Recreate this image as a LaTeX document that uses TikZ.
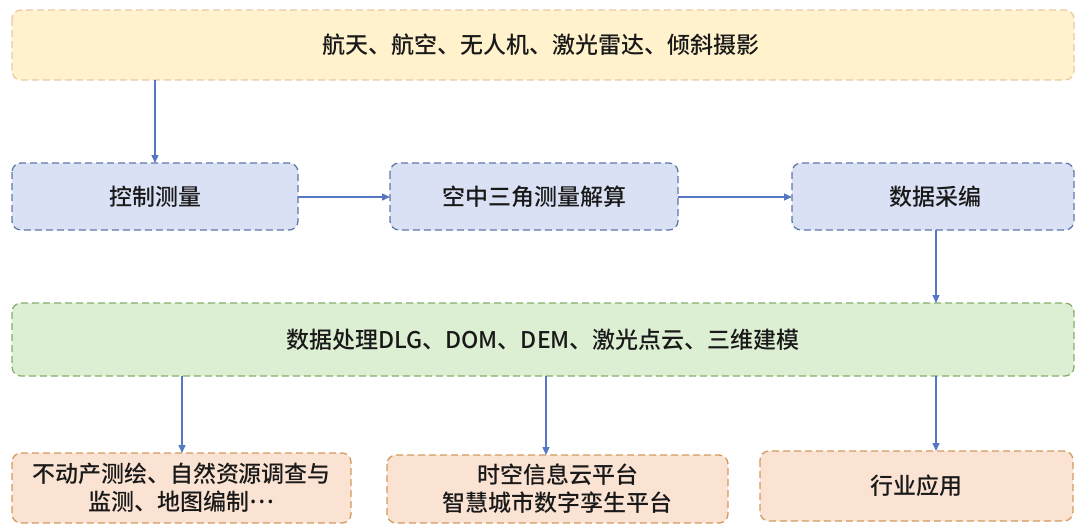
\documentclass[tikz,border=0pt]{standalone}
\usepackage{fontspec}
\setmainfont{Noto Sans CJK SC}[BoldFont={Noto Sans CJK SC Medium}]
\usetikzlibrary{arrows.meta}
\definecolor{yfill}{HTML}{FFF2CC}
\definecolor{ydraw}{HTML}{E8C9A6}
\definecolor{bfill}{HTML}{DAE1F4}
\definecolor{bdraw}{HTML}{6078A8}
\definecolor{gfill}{HTML}{DDEFD3}
\definecolor{gdraw}{HTML}{86AD6C}
\definecolor{ofill}{HTML}{FBE3D3}
\definecolor{odraw}{HTML}{D39A5E}
\definecolor{arr}{HTML}{5677C4}
\tikzset{
  box/.style={rounded corners=9pt, line width=1.3pt, dash pattern=on 7pt off 4pt},
  ybox/.style={box, draw=ydraw, fill=yfill},
  bbox/.style={box, draw=bdraw, fill=bfill},
  gbox/.style={box, draw=gdraw, fill=gfill},
  obox/.style={box, draw=odraw, fill=ofill},
  lbl/.style={font=\fontsize{23}{28}\selectfont\bfseries, text=black!90, align=center},
  conn/.style={draw=arr, line width=1.3pt, -{Triangle[length=8pt,width=7pt]}}
}
\begin{document}
\begin{tikzpicture}[x=1pt,y=-1pt]
\useasboundingbox (0,0) rectangle (1077,525);
% boxes
\draw[ybox] (12,10) rectangle (1074,80);
\node[lbl] (top) at (541,45) {航天、航空、无人机、激光雷达、倾斜摄影};
\coordinate (topB) at (155,80);

\draw[bbox] (12,163) rectangle (298,230);
\node[lbl] (ctrl) at (155,196.5) {控制测量};
\coordinate (ctrlT) at (155,163);
\coordinate (ctrlR) at (298,197);

\draw[bbox] (390,163) rectangle (678,230);
\node[lbl] (aero) at (534,196.5) {空中三角测量解算};
\coordinate (aeroL) at (390,197);
\coordinate (aeroR) at (678,197);

\draw[bbox] (792,163) rectangle (1074,230);
\node[lbl] (data) at (935,196.5) {数据采编};
\coordinate (dataL) at (792,197);
\coordinate (dataB) at (936,230);

\draw[gbox] (12,303) rectangle (1074,376);
\node[lbl] (proc) at (543,339.5) {数据处理DLG、DOM、DEM、激光点云、三维建模};
\coordinate (procT) at (936,303);
\coordinate (procB1) at (182,376);
\coordinate (procB2) at (546,376);
\coordinate (procB3) at (936,376);

\draw[obox] (12,453) rectangle (351,523);
\node[lbl] (app1) at (181.5,488) {不动产测绘、自然资源调查与\\监测、地图编制\raisebox{0.3em}[0pt][0pt]{…}};
\coordinate (app1T) at (182,453);

\draw[obox] (387,455) rectangle (728,523);
\node[lbl] (app2) at (557.5,489) {时空信息云平台\\智慧城市数字孪生平台};
\coordinate (app2T) at (546,455);

\draw[obox] (760,451) rectangle (1073,521);
\node[lbl] (app3) at (916.5,486) {行业应用};
\coordinate (app3T) at (936,451);

% connectors
\draw[conn] (topB) -- (ctrlT);
\draw[conn] (ctrlR) -- (aeroL);
\draw[conn] (aeroR) -- (dataL);
\draw[conn] (dataB) -- (procT);
\draw[conn] (procB1) -- (app1T);
\draw[conn] (procB2) -- (app2T);
\draw[conn] (procB3) -- (app3T);
\end{tikzpicture}
\end{document}
